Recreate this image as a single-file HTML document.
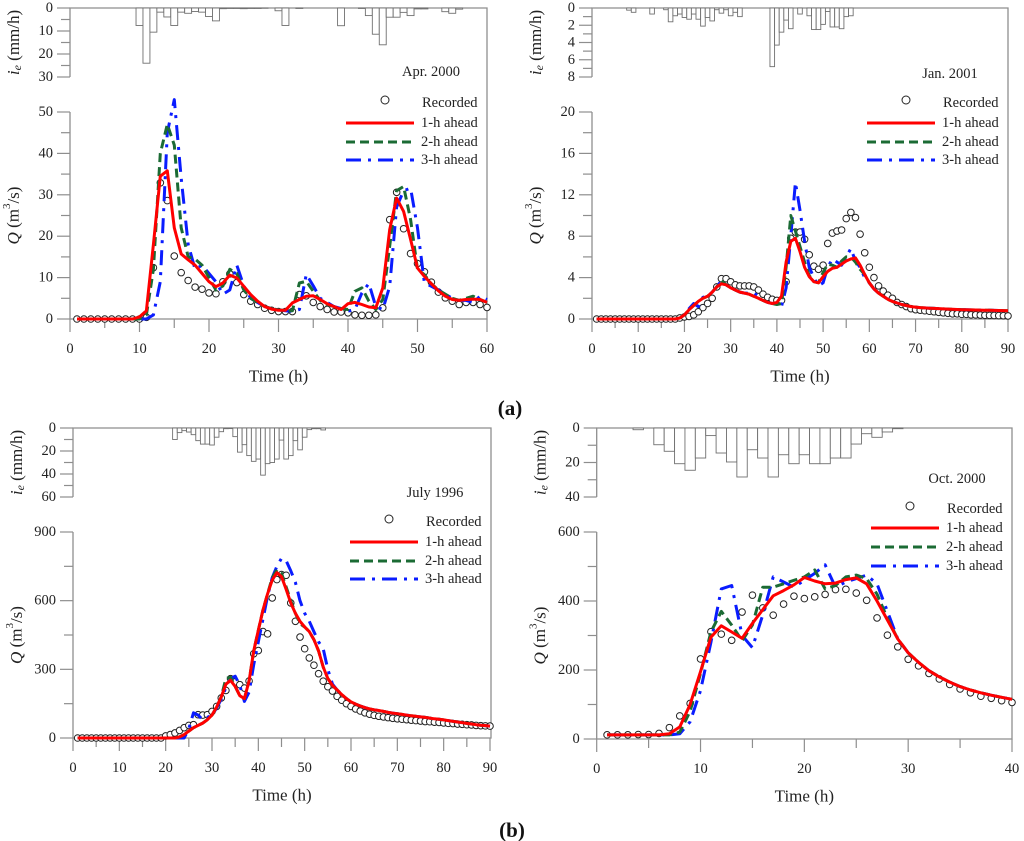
<!DOCTYPE html>
<html>
<head>
<meta charset="utf-8">
<style>
  html, body { margin: 0; padding: 0; background: #fff; }
  svg { display: block; font-family: "Liberation Serif", "DejaVu Serif", serif; }
  svg text { font-family: "Liberation Serif", "DejaVu Serif", serif; }
</style>
</head>
<body>
<svg id="chart" width="1024" height="841" viewBox="0 0 1024 841" xmlns="http://www.w3.org/2000/svg" font-family="Liberation Serif, DejaVu Serif, serif"></svg>
<script>
// ---------- Panel (a) left: Apr. 2000 ----------
const aRecorded = [0,0,0,0,0,0,0,0,0,0, 0.4,12.4,32.9,28.6,15.2,11.2,9.3,7.7,7.2,6.3, 6.1,9,10.9,8.8,5.9,4.3,3.5,2.6,2.1,1.8, 1.8,1.8,5.9,5.6,4,3,2.3,1.7,1.7,1.5, 1,0.9,0.9,1,2.7,24,30.6,21.8,15.8,13.4, 11.4,8.9,6.5,5.1,4.3,3.5,4,4,3.5,2.8];
const aAhead1 = [0,0,0,0,0,0,0,0,0,0.5, 2,18,34.5,35.8,22,15.7,14.3,13,11,9, 7.8,8.7,10.6,9.9,7.9,5.9,4.3,3,2.4,2.1, 2.1,3.9,4.7,5.5,5.6,4.7,3.7,3,2.3,3.7, 4,3.5,2.9,2.7,7.5,21.6,29.2,26,19.2,12.3, 10.3,8.5,6.8,5.5,4.7,4.5,4.7,4.8,4.7,4];
const aAhead2 = [0,0,0,0,0,0,0,0,0,0, 1,12,40,47,42,22,15,14.5,13,10, 7,8,12,11,7,5,4,3,2.5,2.2, 2,2,8.7,9.1,6.7,4.5,3.5,3,2.5,2.3, 6.7,7.5,4.3,2.3,4.7,17.6,31,32,24,12, 10.7,8.5,7,6,5,4.5,5,5.5,4.7,4];
const aAhead3 = [0,0,0,0,0,0,0,0,0,0, 0,1,9,45,53,34,18,12,13,11, 9,6,7,13,8,5,4,3,2.5,2.2, 2,1.8,2.3,10.8,8,5,4,3,2.5,1.9, 2.3,6.3,8.6,3,2.3,7.9,27,31,31.6,22, 8.7,7.9,7,6,5,4.5,4.5,4,5.5,4.7];
const aRainHours = [10,11,12,13,14,15,16,17,18,19,20,21,22,23,24,25,26,27,28,30,31,33,39,42,43,44,45,46,47,48,49,50,51,54,55,56];
const aRainValues = [7.6,24,10.5,1.8,3.9,7.6,1.8,2.3,1.5,1.8,3.7,5.6,0.3,0.2,0.2,0.3,0.2,0.2,0.1,1.2,7.6,0.2,7.7,0.2,3.3,11.4,16,4,4,1.9,3.3,0.4,0.4,1.6,2.3,0.5];
const aXTicks = [0,10,20,30,40,50,60];
const aQTicks = [0,10,20,30,40,50];
const aRainTicks = [0,10,20,30];

// ---------- Panel (a) right: Jan. 2001 ----------
const bRecorded = [0,0,0,0,0,0,0,0,0,0,0,0,0,0,0,0,0,0, 0.1,0.2,0.25,0.4,0.7,1.1,1.5,2,3.1,3.9, 3.9,3.6,3.3,3.2,3.2,3.2,3.1,2.8,2.4,2.1, 1.9,1.8,1.8,3.6,7.8,8.4,8.4,7.7,6.2,5.1, 4.8,5.2,7.3,8.3,8.5,8.6,9.7,10.3,9.8,8.2, 6.4,5,4,3.2,2.7,2.3,2,1.6,1.4,1.2, 1,0.9,0.85,0.8,0.75,0.7,0.65,0.6,0.55,0.5, 0.5,0.45,0.45,0.4,0.4,0.38,0.36,0.35,0.34,0.33, 0.32,0.3];
const bAhead1 = [0,0,0,0,0,0,0,0,0,0,0,0,0,0,0,0,0,0, 0.1,0.4,0.9,1.3,1.7,2,2.2,2.6,3.1,3.4, 3.3,3.0,2.8,2.6,2.5,2.4,2.2,2.0,1.8,1.6, 1.5,1.6,2.2,5.5,7.5,7.8,6.5,5,4.1,3.6, 3.5,4.1,4.6,4.9,5,5.3,5.6,5.8,5.9,5.2, 4.3,3.5,2.9,2.5,2.2,1.9,1.7,1.55,1.4,1.3, 1.2,1.15,1.1,1.07,1.04,1.02,1.0,0.98,0.96,0.94, 0.92,0.9,0.89,0.88,0.87,0.86,0.85,0.84,0.83,0.82, 0.81,0.8];
const bAhead2 = [0,0,0,0,0,0,0,0,0,0,0,0,0,0,0,0,0,0, 0.1,0.4,0.9,1.3,1.7,2,2.2,2.6,3.1,3.7, 3.3,3.0,2.8,2.6,2.5,2.4,2.2,2.0,1.8,1.6, 1.5,1.4,1.5,5,10,8.5,7,5.5,4.2,3.6, 3.5,4.5,5.3,5.2,5,5.6,6,6,5.5,4.8, 4.3,3.5,2.9,2.5,2.2,1.9,1.7,1.55,1.4,1.3, 1.2,1.15,1.1,1.07,1.04,1.02,1.0,0.98,0.96,0.94, 0.92,0.9,0.89,0.88,0.87,0.86,0.85,0.84,0.83,0.82, 0.81,0.8];
const bAhead3 = [0,0,0,0,0,0,0,0,0,0,0,0,0,0,0,0,0,0, 0.1,0.4,1.0,1.5,1.2,2.1,2.2,2.6,3.1,3.7, 3.3,3.0,2.8,2.6,2.5,2.5,2.5,2.2,1.8,1.6, 1.5,1.5,1.2,3,8,13.2,10.5,7.5,5,4, 3.2,3.5,5,5.8,5.5,5.2,6,6.8,5.6,5, 4,3.5,2.9,2.5,2.2,1.9,1.7,1.55,1.4,1.3, 1.2,1.15,1.1,1.07,1.04,1.02,1.0,0.98,0.96,0.94, 0.92,0.9,0.89,0.88,0.87,0.86,0.85,0.84,0.83,0.82, 0.81,0.8];
const bRainHours = [8,9,13,16,17,18,19,20,21,22,23,24,25,26,27,28,29,30,31,32,39,40,41,42,43,45,47,48,49,50,51,52,53,54,55,56];
const bRainValues = [0.25,0.5,0.7,0.2,1.6,0.9,0.7,1.1,1.3,0.7,1.3,2.1,1.1,1.5,0.2,0.6,0.2,0.9,0.5,1,6.8,4.3,2.8,1.4,2.4,0.7,0.9,2.5,2.5,1.9,0.4,2.2,2.2,2.4,1,0.9];
const bXTicks = [0,10,20,30,40,50,60,70,80,90];
const bQTicks = [0,4,8,12,16,20];
const bRainTicks = [0,2,4,6,8];

// ---------- Panel (b) left: July 1996 ----------
const cRecorded = [0,0,0,0,0,0,0,0,0,0,0,0,0,0,0,0,0,0,0, 9,15,22,33,45,55,58,102,100,102, 116,138,175,208,259,245,233,218,249,368, 382,465,455,612,692,714,711,590,510,441, 390,350,318,281,248,224,205,182,165,150, 138,127,118,110,104,99,95,92,89,86, 84,82,80,78,76,74,72,71,69,68, 66,64,63,61,60,58,57,55,54,53, 52];
const cAhead1 = [0,0,0,0,0,0,0,0,0,0,0,0,0,0,0,0,0,0,0,0,0,0, 5,15,30,45,55,65,80,100,135,180, 235,252,225,185,172,250,380,470,560,630, 690,722,705,650,590,545,510,485,465,430, 380,310,260,230,210, 190,172,158,148,140,133,127,123,120,116,112,109,106,103,100,97,95,92,90,87,84,82,79,76,73,70,67,64,61,58,56,54,52];
const cAhead2 = [0,0,0,0,0,0,0,0,0,0,0,0,0,0,0,0,0,0,0,0,0,0, 5,15,30,45,55,65,80,100,135,180, 260,265,225,185,172,250,380,470,560,630, 700,735,720,660,600,545,500,485,465,430, 380,310,260,230,210, 190,172,158,148,140,133,127,123,120,116,112,109,106,103,100,97,95,92,90,87,84,82,79,76,73,70,67,64,61,58,56,54,52];
const cAhead3 = [0,0,0,0,0,0,0,0,0,0,0,0,0,0,0,0,0,0,0,0,0,0,0,0, 40,110,100,80,90,100,130,170,220,260, 270,230,160,200,320,420,520,620,700,750, 785,775,730,680,600,545,510,465,420,390, 300,235,210, 190,172,158,148,140,133,127,123,120,116,112,109,106,103,100,97,95,92,90,87,84,82,79,76,73,70,67,64,61,58,56,54,52];
const cRainHours = [22,23,24,25,26,27,28,29,30,31,32,33,34,35,36,37,38,39,40,41,42,43,44,45,46,47,48,49,50,51,52,53,54];
const cRainValues = [10,4,2.3,3.5,5.8,11,14,14,14.8,8,3.2,0.6,0.5,7.5,21,14.5,24,29,27,41,31,30,27,10.5,27,24,11,19,8,1.4,0.6,0.6,1.7];
const cXTicks = [0,10,20,30,40,50,60,70,80,90];
const cQTicks = [0,300,600,900];
const cRainTicks = [0,20,40,60];

// ---------- Panel (b) right: Oct. 2000 ----------
const dRecorded = [12,12,12,13,13,16,33,67,103,232, 311,304,286,368,417,380,359,391,414,407, 412,419,433,434,423,402,351,301,267,231, 212,190,174,158,145,134,124,118,111,106];
const dAhead1 = [12,12,12,12,12,12,15,35,100,195, 295,328,310,292,335,375,415,430,447,468, 458,450,452,462,467,450,400,345,290,250, 222,198,180,165,152,142,134,127,121,115];
const dAhead2 = [12,12,12,12,12,12,12,20,80,190, 310,370,330,285,330,440,440,450,460,470, 490,435,445,470,475,465,420,350,290,250, 222,198,180,165,152,142,134,127,121,115];
const dAhead3 = [12,12,12,12,12,12,12,15,50,140, 280,435,445,300,265,360,470,455,440,460, 480,505,440,455,465,475,450,370,290,250, 222,198,180,165,152,142,134,127,121,115];
const dRainHours = [4,6,7,8,9,10,11,12,13,14,15,16,17,18,19,20,21,22,23,24,25,26,27,28,29];
const dRainValues = [1,9.7,13.5,20.7,24.5,17.4,4.4,14.5,19.7,28.4,12.6,17.4,28.4,15.5,20.7,15.5,20.7,20.7,17.4,17.4,9.3,3.3,5.4,2.3,0.4];
const dXTicks = [0,10,20,30,40];
const dQTicks = [0,200,400,600];
const dRainTicks = [0,20,40];

const NS = 'http://www.w3.org/2000/svg';
const FONT = '"Liberation Serif", "DejaVu Serif", serif';
const svg = document.getElementById('chart');
const AX = '#8e8e8e';
function mk(tag, attrs, parent) {
  const e = document.createElementNS(NS, tag);
  for (const k in attrs) e.setAttribute(k, attrs[k]);
  if (tag === 'text') e.style.fontFamily = FONT;
  (parent || svg).appendChild(e);
  return e;
}

function drawPanel(p, rec, s1, s2, s3, rainH, rainV, xTicks, qTicks, rTicks) {
  const g = mk('g', {});
  
  
  const xMax = xTicks[xTicks.length - 1];
  const qMax = qTicks[qTicks.length - 1];
  const rMax = rTicks[rTicks.length - 1];
  const sx = t => p.x0 + t * (p.x1 - p.x0) / xMax;
  const sq = v => p.qy0 - v * (p.qy0 - p.qy1) / qMax;
  const sr = v => p.ry0 + v * (p.ry1 - p.ry0) / rMax;
  const R = p.R;

  const frame = mk('path', {d:
    `M${p.x0},${p.ry1} L${p.x0},${p.ry0} L${R},${p.ry0} L${R},${p.qy0} L${p.x0},${p.qy0} L${p.x0},${p.qy1}`,
    fill: 'none', stroke: AX, 'stroke-width': 1.3}, g);
  
  

  const xStep = xTicks[1] - xTicks[0];
  for (let k = 0; k <= xMax / (xStep / 2); k++) {
    const t = k * xStep / 2, major = k % 2 === 0;
    mk('line', {x1: sx(t), x2: sx(t), y1: p.qy0, y2: p.qy0 + (major ? 13 : 9), stroke: AX, 'stroke-width': 1.2}, g);
  }
  xTicks.forEach(t => {
    const tx = mk('text', {x: sx(t), y: p.qy0 + 30, 'font-size': 14.5, 'text-anchor': 'middle', 'dominant-baseline': 'central', fill: '#222'}, g);
    
    
    tx.textContent = t;
  });
  const qStep = qTicks[1] - qTicks[0];
  for (let k = 0; k <= 2 * (qTicks.length - 1); k++) {
    const v = k * qStep / 2, major = k % 2 === 0;
    mk('line', {x1: p.x0 - (major ? 13 : 9), x2: p.x0, y1: sq(v), y2: sq(v), stroke: AX, 'stroke-width': 1.2}, g);
  }
  qTicks.forEach(v => {
    const tx = mk('text', {x: p.x0 - 17, y: sq(v), 'font-size': 14.5, 'text-anchor': 'end', 'dominant-baseline': 'central', fill: '#222'}, g);
    
    
    tx.textContent = v;
  });
  const rStep = rTicks[1] - rTicks[0];
  for (let k = 0; k <= 2 * (rTicks.length - 1); k++) {
    const v = k * rStep / 2, major = k % 2 === 0;
    mk('line', {x1: p.x0 - (major ? 13 : 9), x2: p.x0, y1: sr(v), y2: sr(v), stroke: AX, 'stroke-width': 1.2}, g);
  }
  rTicks.forEach(v => {
    const tx = mk('text', {x: p.x0 - 17, y: sr(v), 'font-size': 14.5, 'text-anchor': 'end', 'dominant-baseline': 'central', fill: '#222'}, g);
    
    
    tx.textContent = v;
  });

  const tx1 = p.x0 - 57;
  const ry = (p.ry0 + p.ry1) / 2;
  const rt = mk('text', {x: tx1, y: ry, 'font-size': 17, 'text-anchor': 'middle', 'dominant-baseline': 'central', transform: `rotate(-90 ${tx1} ${ry})`, fill: '#222'}, g);
  
  
  rt.innerHTML = '<tspan font-style="italic">i</tspan><tspan font-style="italic" font-size="12" dy="4">e</tspan><tspan dy="-4"> (mm/h)</tspan>';
  const qy = (p.qy0 + p.qy1) / 2;
  const qt = mk('text', {x: tx1, y: qy, 'font-size': 17, 'text-anchor': 'middle', 'dominant-baseline': 'central', transform: `rotate(-90 ${tx1} ${qy})`, fill: '#222'}, g);
  
  
  qt.innerHTML = '<tspan font-style="italic">Q</tspan> (m<tspan font-size="11" dy="-6">3</tspan><tspan dy="6">/s)</tspan>';
  const xt = mk('text', {x: (p.x0 + R) / 2, y: p.qy0 + 57, 'font-size': 17, 'text-anchor': 'middle', 'dominant-baseline': 'central', fill: '#222'}, g);
  
  
  xt.textContent = 'Time (h)';

  const bw = (p.x1 - p.x0) / xMax;
  rainH.forEach((h, i) => {
    const b = mk('rect', {x: sx(h - 0.5), y: p.ry0, width: bw, height: sr(rainV[i]) - p.ry0, fill: '#fff', stroke: '#707070', 'stroke-width': 0.9}, g);
    
    
  });

  rec.forEach((v, i) => {
    const c = mk('circle', {cx: sx(i + 1), cy: sq(v), r: 3.3, fill: '#fff', stroke: '#222', 'stroke-width': 1}, g);
    
    
  });

  const styles = [
    {data: s3, color: '#0a1cff', dash: '15 7 3 7', name: 'forecast-3h-line'},
    {data: s2, color: '#1b6b34', dash: '9 5', name: 'forecast-2h-line'},
    {data: s1, color: '#ff0000', dash: '', name: 'forecast-1h-line'}
  ];
  styles.forEach(s => {
    const pts = s.data.map((v, i) => sx(i + 1).toFixed(1) + ',' + sq(v).toFixed(1)).join(' ');
    const l = mk('polyline', {points: pts, fill: 'none', stroke: s.color, 'stroke-width': 3, 'stroke-dasharray': s.dash, 'stroke-linejoin': 'round'}, g);
    
    
  });

  const lg = mk('g', {}, g);
  
  
  const ev = mk('text', {x: p.evX, y: p.evY, 'font-size': 14.5, 'text-anchor': 'middle', 'dominant-baseline': 'central', fill: '#222'}, lg);
  
  
  ev.textContent = p.event;
  const lc = mk('circle', {cx: R - 102, cy: p.ly[0] - 2, r: 4, fill: '#fff', stroke: '#222', 'stroke-width': 1}, lg);
  
  
  const lt = mk('text', {x: R - 65, y: p.ly[0] + 1, 'font-size': 14.5, 'dominant-baseline': 'central', fill: '#222'}, lg);
  
  
  lt.textContent = 'Recorded';
  const labs = ['1-h ahead', '2-h ahead', '3-h ahead'];
  const cols = ['#ff0000', '#1b6b34', '#0a1cff'];
  const dashes = ['', '9 5', '15 7 3 7'];
  for (let k = 0; k < 3; k++) {
    const y = p.ly[k + 1];
    const ll = mk('line', {x1: R - 141, x2: R - 73, y1: y, y2: y, stroke: cols[k], 'stroke-width': 3, 'stroke-dasharray': dashes[k]}, lg);
    
    
    const t = mk('text', {x: R - 66, y: y, 'font-size': 14.5, 'dominant-baseline': 'central', fill: '#222'}, lg);
    
    
    t.textContent = labs[k];
  }
}

drawPanel({name: 'panel-apr-2000', x0: 70, x1: 487, R: 487, qy0: 319, qy1: 112, ry0: 8, ry1: 77,
  event: 'Apr. 2000', evX: 431, evY: 72, ly: [102, 123, 142, 160]},
  aRecorded, aAhead1, aAhead2, aAhead3, aRainHours, aRainValues, aXTicks, aQTicks, aRainTicks);
drawPanel({name: 'panel-jan-2001', x0: 592, x1: 1008, R: 1008, qy0: 319, qy1: 112, ry0: 8, ry1: 77,
  event: 'Jan. 2001', evX: 950, evY: 74, ly: [102, 123, 142, 160]},
  bRecorded, bAhead1, bAhead2, bAhead3, bRainHours, bRainValues, bXTicks, bQTicks, bRainTicks);
drawPanel({name: 'panel-july-1996', x0: 73, x1: 490, R: 491, qy0: 738, qy1: 532, ry0: 428, ry1: 497,
  event: 'July 1996', evX: 435, evY: 493, ly: [521, 542, 561, 579]},
  cRecorded, cAhead1, cAhead2, cAhead3, cRainHours, cRainValues, cXTicks, cQTicks, cRainTicks);
drawPanel({name: 'panel-oct-2000', x0: 596.7, x1: 1012, R: 1012, qy0: 739, qy1: 532, ry0: 428, ry1: 497,
  event: 'Oct. 2000', evX: 957, evY: 479, ly: [508, 528, 547, 566]},
  dRecorded, dAhead1, dAhead2, dAhead3, dRainHours, dRainValues, dXTicks, dQTicks, dRainTicks);

const la = mk('text', {x: 510, y: 408, 'font-size': 21, 'font-weight': 'bold', 'text-anchor': 'middle', 'dominant-baseline': 'central', fill: '#111'});


la.textContent = '(a)';
const lb = mk('text', {x: 512, y: 830, 'font-size': 21, 'font-weight': 'bold', 'text-anchor': 'middle', 'dominant-baseline': 'central', fill: '#111'});


lb.textContent = '(b)';
</script>
</body>
</html>
